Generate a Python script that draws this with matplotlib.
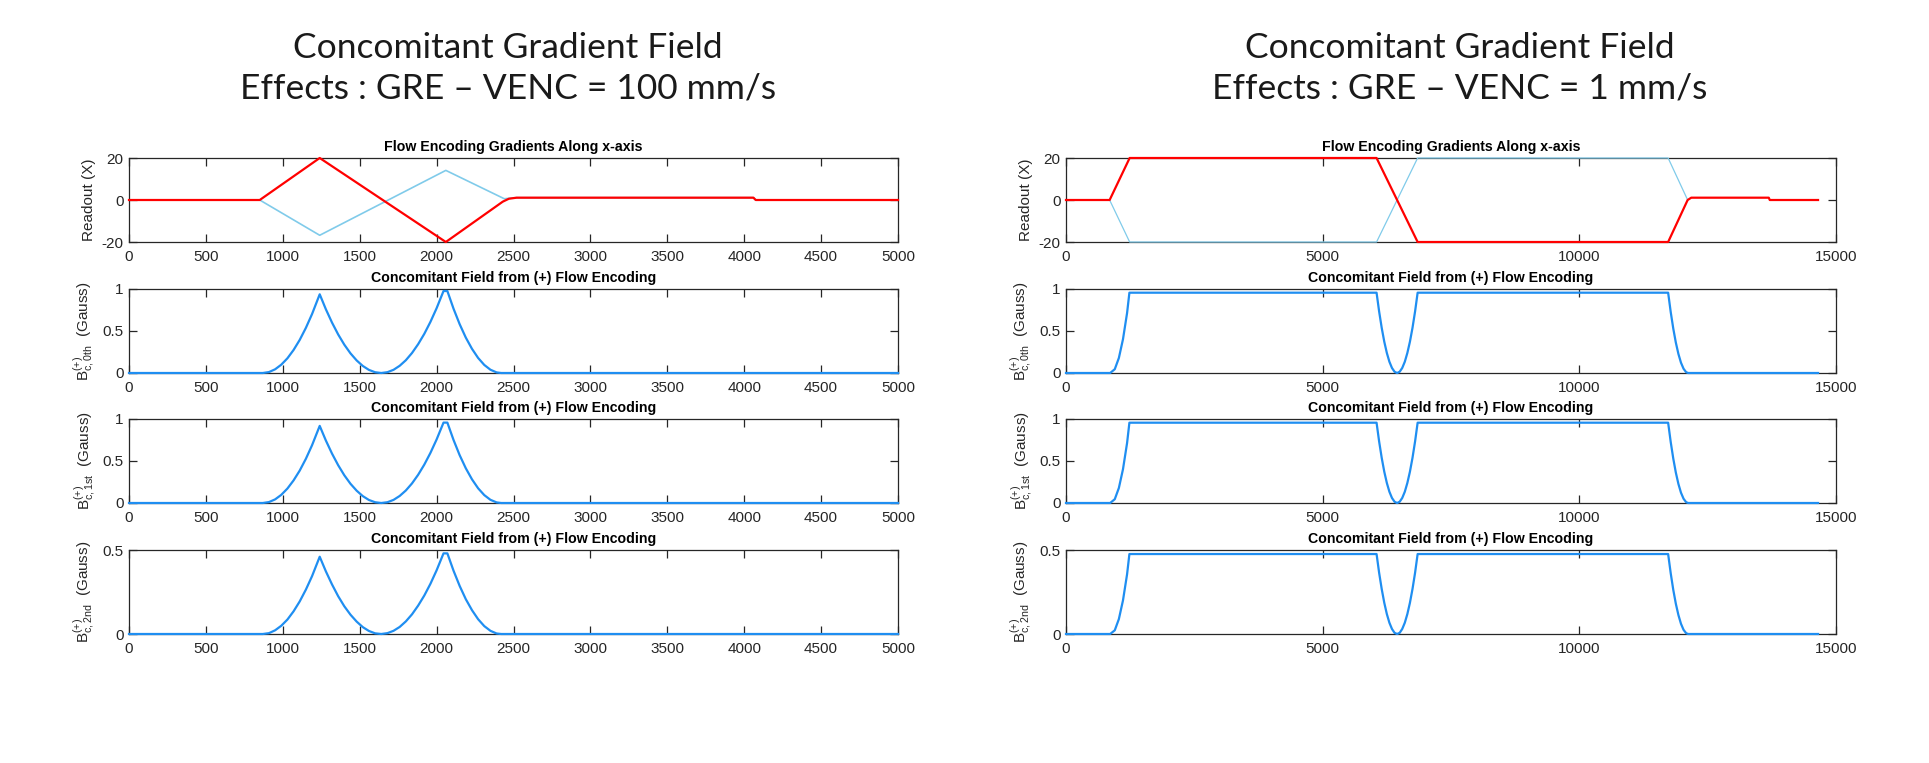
import matplotlib
matplotlib.use("Agg")
import matplotlib.pyplot as plt
from matplotlib.ticker import FixedLocator, FuncFormatter

plt.rcParams['font.family'] = ['Liberation Sans', 'DejaVu Sans']
plt.rcParams['mathtext.fontset'] = 'custom'
plt.rcParams['mathtext.rm'] = 'Liberation Sans'
plt.rcParams['mathtext.it'] = 'Liberation Sans:italic'
plt.rcParams['mathtext.bf'] = 'Liberation Sans:bold'

# ---------------- data: left panel (VENC = 100 mm/s) ----------------
L_red_t = [0, 850, 1240, 2060, 2430, 2470, 2520, 4060, 4075, 5000]
L_red_v = [0, 0, 20, -20, -0.8, 0.6, 1.1, 1.1, 0, 0]
L_blue_t = [0, 850, 1240, 2060, 2440, 2470, 2520, 4060, 4075, 5000]
L_blue_v = [0, 0, -16.8, 14.1, 0.6, 0.8, 1.1, 1.1, 0, 0]

L_bc_t = [0, 870, 910, 950, 990, 1030, 1070, 1110, 1150, 1190, 1240,
          1280, 1320, 1360, 1400, 1440, 1480, 1520, 1560, 1600, 1640,
          1680, 1720, 1760, 1800, 1840, 1880, 1920, 1960, 2000, 2045, 2070,
          2110, 2150, 2190, 2230, 2270, 2310, 2350, 2390, 2420, 5000]
L_bc0 = [0, 0, 0.011, 0.044, 0.099, 0.175, 0.274, 0.394, 0.537, 0.701, 0.937,
         0.759, 0.600, 0.459, 0.337, 0.234, 0.150, 0.084, 0.037, 0.009, 0,
         0.0095, 0.038, 0.086, 0.152, 0.238, 0.343, 0.466, 0.609, 0.771, 0.976, 0.976,
         0.766, 0.581, 0.421, 0.288, 0.179, 0.096, 0.039, 0.007, 0, 0]
L_bc1 = [0, 0, 0.011, 0.043, 0.097, 0.172, 0.269, 0.386, 0.526, 0.687, 0.918,
         0.744, 0.588, 0.450, 0.330, 0.229, 0.147, 0.082, 0.036, 0.009, 0,
         0.009, 0.037, 0.084, 0.149, 0.233, 0.336, 0.457, 0.597, 0.756, 0.957, 0.957,
         0.751, 0.569, 0.413, 0.282, 0.175, 0.094, 0.038, 0.007, 0, 0]
L_bc2 = [0, 0, 0.005, 0.022, 0.049, 0.086, 0.135, 0.194, 0.264, 0.344, 0.460,
         0.373, 0.295, 0.225, 0.165, 0.115, 0.074, 0.041, 0.018, 0.004, 0,
         0.005, 0.019, 0.042, 0.075, 0.117, 0.169, 0.229, 0.299, 0.379, 0.480, 0.480,
         0.377, 0.286, 0.207, 0.142, 0.088, 0.047, 0.019, 0.003, 0, 0]

# ---------------- data: right panel (VENC = 1 mm/s) ----------------
R_red_t = [0, 850, 1240, 6050, 6850, 11730, 12110, 12180, 13690, 13710, 14650]
R_red_v = [0, 0, 20, 20, -20, -20, 0, 1.1, 1.1, 0, 0]
R_blue_t = [0, 850, 1240, 6050, 6850, 11730, 12110]
R_blue_v = [0, 0, -20, -20, 20, 20, 0]

R_bc_t = [0, 860, 950, 1030, 1110, 1190, 1235,
          6050, 6100, 6150, 6200, 6250, 6300, 6350, 6400, 6450,
          6500, 6550, 6600, 6650, 6700, 6750, 6800, 6850,
          11730, 11780, 11830, 11880, 11930, 11980, 12030, 12080, 12120, 14650]
R_bc0 = [0, 0, 0.045, 0.179, 0.402, 0.715, 0.956,
         0.956, 0.732, 0.538, 0.373, 0.239, 0.134, 0.060, 0.015, 0,
         0.015, 0.060, 0.134, 0.239, 0.373, 0.538, 0.732, 0.956,
         0.956, 0.727, 0.529, 0.362, 0.227, 0.123, 0.051, 0.010, 0, 0]
R_bc1 = [0, 0, 0.045, 0.179, 0.402, 0.715, 0.956,
         0.956, 0.732, 0.538, 0.373, 0.239, 0.134, 0.060, 0.015, 0,
         0.015, 0.060, 0.134, 0.239, 0.373, 0.538, 0.732, 0.956,
         0.956, 0.727, 0.529, 0.362, 0.227, 0.123, 0.051, 0.010, 0, 0]
R_bc2 = [0, 0, 0.022, 0.089, 0.200, 0.356, 0.476,
         0.476, 0.364, 0.268, 0.186, 0.119, 0.067, 0.030, 0.007, 0,
         0.007, 0.030, 0.067, 0.119, 0.186, 0.268, 0.364, 0.476,
         0.476, 0.362, 0.263, 0.180, 0.113, 0.061, 0.025, 0.005, 0, 0]

L_xticks = [0, 500, 1000, 1500, 2000, 2500, 3000, 3500, 4000, 4500, 5000]
R_xticks = [0, 5000, 10000, 15000]

titles_main = ["Concomitant Gradient Field", "Effects : GRE \u2013 VENC = 100 mm/s",
               "Concomitant Gradient Field", "Effects : GRE \u2013 VENC = 1 mm/s"]
sub_titles = ["Flow Encoding Gradients Along x-axis",
              "Concomitant Field from (+) Flow Encoding",
              "Concomitant Field from (+) Flow Encoding",
              "Concomitant Field from (+) Flow Encoding"]
ylabels = ["Readout (X)",
           r"$\mathrm{B}^{(+)}_{\mathrm{c,0th}}$  (Gauss)",
           r"$\mathrm{B}^{(+)}_{\mathrm{c,1st}}$  (Gauss)",
           r"$\mathrm{B}^{(+)}_{\mathrm{c,2nd}}$  (Gauss)"]

RED = '#FF0000'
SKY = '#80CBEA'
BC = '#1F8EF1'
DARK = '#262626'

W, H = 1929, 763
fig = plt.figure(figsize=(W / 100, H / 100), dpi=100)

col_x = [129, 1066]
col_w = [769, 770]
row_top = [158, 289, 419, 550]
row_h = 84

fmt = FuncFormatter(lambda v, pos: '%g' % v)

def style(ax, xlim, xticks, ylim, yticks):
    ax.set_xlim(*xlim)
    ax.set_ylim(*ylim)
    ax.xaxis.set_major_locator(FixedLocator(xticks))
    ax.yaxis.set_major_locator(FixedLocator(yticks))
    ax.xaxis.set_major_formatter(fmt)
    ax.yaxis.set_major_formatter(fmt)
    ax.tick_params(direction='in', length=6, width=0.9, colors=DARK,
                   top=True, right=True, labelsize=11)
    ax.tick_params(axis='x', pad=6)
    ax.tick_params(axis='y', pad=4)
    for s in ax.spines.values():
        s.set_color(DARK)
        s.set_linewidth(0.9)

panels = [
    dict(xlim=(0, 5000), xt=L_xticks, red=(L_red_t, L_red_v), blue=(L_blue_t, L_blue_v), blue_lw=1.2,
         bc_t=L_bc_t, bcs=[L_bc0, L_bc1, L_bc2]),
    dict(xlim=(0, 15000), xt=R_xticks, red=(R_red_t, R_red_v), blue=(R_blue_t, R_blue_v), blue_lw=0.9,
         bc_t=R_bc_t, bcs=[R_bc0, R_bc1, R_bc2]),
]

ylims = [(-20, 20), (0, 1), (0, 1), (0, 0.5)]
yticks = [[-20, 0, 20], [0, 0.5, 1], [0, 0.5, 1], [0, 0.5]]

for c, p in enumerate(panels):
    for r in range(4):
        ax = fig.add_axes([col_x[c] / W, 1 - (row_top[r] + row_h) / H, col_w[c] / W, row_h / H])
        if r == 0:
            ax.plot(p['blue'][0], p['blue'][1], color=SKY, lw=p['blue_lw'], clip_on=False, zorder=3)
            ax.plot(p['red'][0], p['red'][1], color=RED, lw=1.6, clip_on=False, zorder=4)
        else:
            ax.plot(p['bc_t'], p['bcs'][r - 1], color=BC, lw=1.6, clip_on=False, zorder=3)
        style(ax, p['xlim'], p['xt'], ylims[r], yticks[r])
        ax.set_title(sub_titles[r], fontsize=10.2, fontweight='bold', pad=5, color='black')
        ax.set_ylabel(ylabels[r], fontsize=11, color=DARK, labelpad=4)

# main titles
for c, cx in enumerate([508, 1460]):
    fig.text(cx / W, 1 - 58 / H, titles_main[2 * c], ha='center', va='baseline',
             fontsize=25.5, family=['Lato', 'DejaVu Sans'], color='#1a1a1a')
    fig.text(cx / W, 1 - 98 / H, titles_main[2 * c + 1], ha='center', va='baseline',
             fontsize=25.5, family=['Lato', 'DejaVu Sans'], color='#1a1a1a')

fig.savefig('out.png', dpi=100, facecolor='white')
